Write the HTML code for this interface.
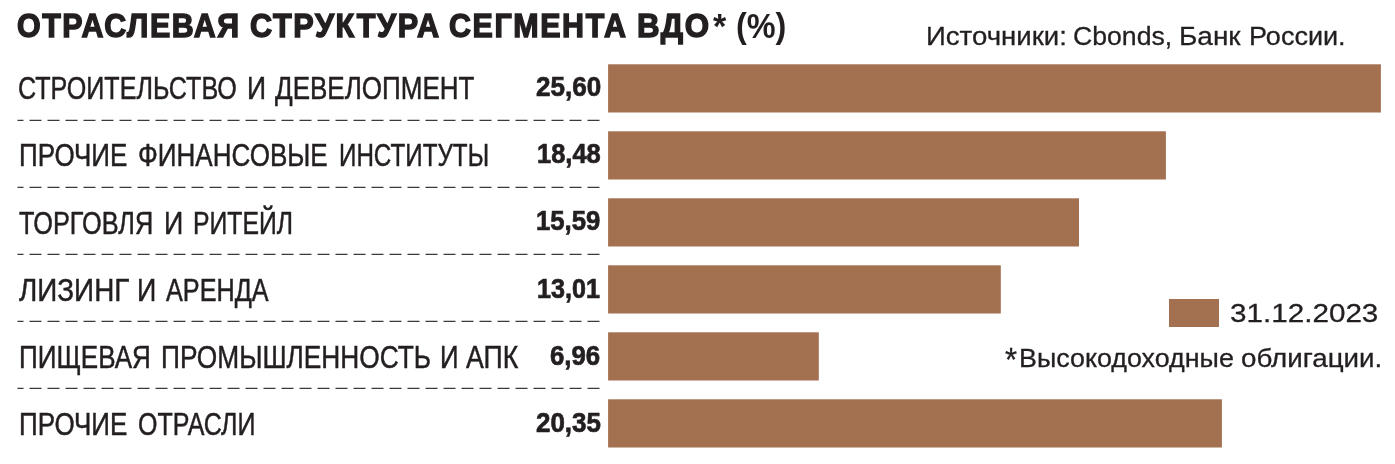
<!DOCTYPE html>
<html lang="ru"><head><meta charset="utf-8"><title>Отраслевая структура сегмента ВДО</title>
<style>
html,body{margin:0;padding:0;background:#fff;}
body{width:1395px;height:464px;position:relative;overflow:hidden;font-family:"Liberation Sans",sans-serif;color:#231f20;}
.t{position:absolute;white-space:nowrap;line-height:1;transform-origin:0 0;margin:0;font-weight:normal;}
.lab{position:absolute;left:0;font-size:32.0px;line-height:1;white-space:nowrap;-webkit-text-stroke:0.5px #231f20;}
.lab span,.wl span{position:absolute;top:0;transform-origin:0 0;}
.wl{position:absolute;left:0;line-height:1;white-space:nowrap;}
.val{font-weight:bold;font-size:27.4px;-webkit-text-stroke:0.7px #231f20;}
.bar{position:absolute;background:#a37050;}
</style></head><body>
<h1 class="wl" id="title" style="top:10.12px;font-size:32.7px;-webkit-text-stroke:1.4px #231f20;letter-spacing:1.7px;font-weight:bold;margin:0;"><span id="title_0" style="left:16.60px;transform:scaleX(0.9293)">ОТРАСЛЕВАЯ</span> <span id="title_1" style="left:250.00px;transform:scaleX(0.9378)">СТРУКТУРА</span> <span id="title_2" style="left:449.10px;transform:scaleX(0.9310)">СЕГМЕНТА</span> <span id="title_3" style="left:636.66px;transform:scaleX(0.9570)">ВДО</span></h1>
<div class="wl" id="title2" style="top:8.27px;font-size:35px;-webkit-text-stroke:0px #231f20;letter-spacing:0px;font-weight:bold;margin:0;"><span id="title2_0" style="left:712.86px;transform:scaleX(0.9736)">*</span><span id="title2_1" style="left:736.08px;transform:scaleX(0.9255)">(%)</span></div>
<div class="wl" id="src" style="top:23.05px;font-size:26.4px;-webkit-text-stroke:0.3px #231f20;letter-spacing:0px;font-weight:normal;margin:0;"><span id="src_0" style="left:925.81px;transform:scaleX(1.0452)">Источники:</span> <span id="src_1" style="left:1072.54px;transform:scaleX(1.0090)">Cbonds,</span> <span id="src_2" style="left:1178.68px;transform:scaleX(1.0596)">Банк</span> <span id="src_3" style="left:1248.65px;transform:scaleX(1.0244)">России.</span></div>
<div class="lab" id="lab0" style="top:72.21px;"><span id="lab0_0" style="left:18.12px;transform:translateY(0px) scaleX(0.7841)">СТРОИТЕЛЬСТВО</span> <span id="lab0_1" style="left:247.23px;transform:translateY(0px) scaleX(0.8278)">И</span> <span id="lab0_2" style="left:275.00px;transform:translateY(0px) scaleX(0.8135)">ДЕВЕЛОПМЕНТ</span></div>
<div class="t val" id="val0_0" style="top:72.71px;left:535.52px;transform:scaleX(0.9502);">25,60</div>
<div class="lab" id="lab1" style="top:139.21px;"><span id="lab1_0" style="left:18.97px;transform:translateY(0px) scaleX(0.8115)">ПРОЧИЕ</span> <span id="lab1_1" style="left:137.98px;transform:translateY(0px) scaleX(0.8134)">ФИНАНСОВЫЕ</span> <span id="lab1_2" style="left:338.81px;transform:translateY(0px) scaleX(0.7561)">ИНСТИТУТЫ</span></div>
<div class="t val" id="val1_0" style="top:139.71px;left:536.60px;transform:scaleX(0.9308);">18,48</div>
<div class="lab" id="lab2" style="top:206.21px;"><span id="lab2_0" style="left:18.61px;transform:translateY(1px) scaleX(0.7898)">ТОРГОВЛЯ</span> <span id="lab2_1" style="left:164.20px;transform:translateY(1px) scaleX(0.8389)">И</span> <span id="lab2_2" style="left:192.57px;transform:translateY(1px) scaleX(0.7735)">РИТЕЙЛ</span></div>
<div class="t val" id="val2_0" style="top:206.71px;left:536.39px;transform:scaleX(0.9374);">15,59</div>
<div class="lab" id="lab3" style="top:273.21px;"><span id="lab3_0" style="left:18.60px;transform:translateY(1px) scaleX(0.8704)">ЛИЗИНГ</span> <span id="lab3_1" style="left:136.90px;transform:translateY(1px) scaleX(0.8389)">И</span> <span id="lab3_2" style="left:165.50px;transform:translateY(1px) scaleX(0.7878)">АРЕНДА</span></div>
<div class="t val" id="val3_0" style="top:274.71px;left:537.32px;transform:scaleX(0.9169);">13,01</div>
<div class="lab" id="lab4" style="top:340.21px;"><span id="lab4_0" style="left:18.97px;transform:translateY(1px) scaleX(0.8133)">ПИЩЕВАЯ</span> <span id="lab4_1" style="left:160.95px;transform:translateY(1px) scaleX(0.8212)">ПРОМЫШЛЕННОСТЬ</span> <span id="lab4_2" style="left:439.89px;transform:translateY(1px) scaleX(0.8056)">И</span> <span id="lab4_3" style="left:466.31px;transform:translateY(1px) scaleX(0.8333)">АПК</span></div>
<div class="t val" id="val4_0" style="top:341.71px;left:550.29px;transform:scaleX(0.9404);">6,96</div>
<div class="lab" id="lab5" style="top:407.21px;"><span id="lab5_0" style="left:18.97px;transform:translateY(1px) scaleX(0.8115)">ПРОЧИЕ</span> <span id="lab5_1" style="left:137.62px;transform:translateY(1px) scaleX(0.7809)">ОТРАСЛИ</span></div>
<div class="t val" id="val5_0" style="top:408.71px;left:535.53px;transform:scaleX(0.9467);">20,35</div>
<svg class="bars" width="1395" height="464" viewBox="0 0 1395 464" style="position:absolute;left:0;top:0;" fill="#a37050"><rect x="608.1" y="64.30" width="772.80" height="48.2"/><rect x="608.1" y="131.30" width="557.80" height="48.2"/><rect x="608.1" y="198.30" width="470.90" height="48.2"/><rect x="608.1" y="265.30" width="392.70" height="48.2"/><rect x="608.1" y="332.30" width="210.70" height="48.2"/><rect x="608.1" y="399.30" width="613.80" height="48.2"/></svg>
<svg class="lines" width="1395" height="464" viewBox="0 0 1395 464" style="position:absolute;left:0;top:0;" fill="none" stroke="#3a3a3a" stroke-width="1.3" stroke-dasharray="12 6" stroke-dashoffset="6"><line x1="17.5" x2="599.5" y1="120.35" y2="120.35"/><line x1="17.5" x2="599.5" y1="187.35" y2="187.35"/><line x1="17.5" x2="599.5" y1="254.35" y2="254.35"/><line x1="17.5" x2="599.5" y1="321.35" y2="321.35"/><line x1="17.5" x2="599.5" y1="388.35" y2="388.35"/></svg>
<div class="bar" style="left:1169px;top:299px;width:50px;height:28px;"></div>
<div class="wl" id="leg" style="top:299.99px;font-size:26px;-webkit-text-stroke:0.3px #231f20;letter-spacing:0px;font-weight:normal;margin:0;"><span id="leg_0" style="left:1229.54px;transform:scaleX(1.1401)">31.12.2023</span></div>
<div class="wl" id="foot" style="top:345.49px;font-size:26px;-webkit-text-stroke:0.3px #231f20;letter-spacing:0px;font-weight:normal;margin:0;"><span id="foot_0" style="left:1004.83px;font-size:33px;top:-2.2px;transform:scaleX(0.9417)">*</span><span id="foot_1" style="left:1019.43px;transform:scaleX(1.0332)">Высокодоходные</span> <span id="foot_2" style="left:1240.93px;transform:scaleX(1.0662)">облигации.</span></div>
</body></html>
